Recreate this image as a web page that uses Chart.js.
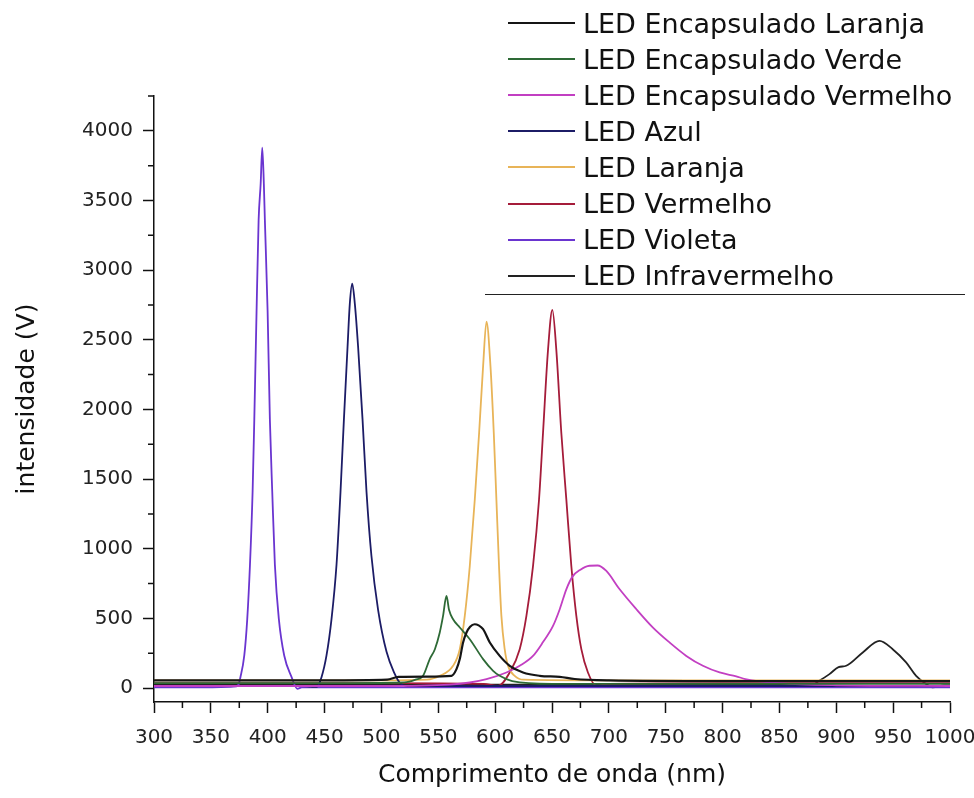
<!DOCTYPE html>
<html>
<head>
<meta charset="utf-8">
<script src="https://cdn.jsdelivr.net/npm/chart.js@4.4.1/dist/chart.umd.min.js"></script>
<style>
  body { margin: 0; background: #fff; }
  #wrap { position: relative; width: 974px; height: 798px; }
  #spectra { position: absolute; left: 0; top: 0; }
  #legend {
    position: absolute; left: 485px; top: 5px; width: 480px; height: 289px;
    border-bottom: 1.5px solid #222; font-family: "DejaVu Sans", sans-serif;
    font-size: 27px; color: #111;
  }
  .row { height: 36.1px; display: flex; align-items: center; }
  .swatch { width: 67px; height: 0; border-top: 2px solid; margin-left: 23px; margin-right: 8px; }
</style>
</head>
<body>
<div id="wrap">
  <canvas id="spectra" width="974" height="798"></canvas>
  <div id="legend"></div>
</div>
<script>
const seriesNames = [
  "LED Encapsulado Laranja",
  "LED Encapsulado Verde",
  "LED Encapsulado Vermelho",
  "LED Azul",
  "LED Laranja",
  "LED Vermelho",
  "LED Violeta",
  "LED Infravermelho",
];

const seriesColors = [
  "#151515",
  "#2e6a36",
  "#c23fc2",
  "#1c1c66",
  "#e8b458",
  "#a51c3a",
  "#6a35d0",
  "#222222",
];

// wavelength (nm) and intensity (V) for each LED
const encLaranjaNm = [300, 450, 505, 515, 540, 561.6, 566, 568.9, 571.8, 574.8, 578, 582, 585.5, 589.4, 595.3, 604, 612.8, 624.5, 639.2, 656.8, 670, 700, 800, 900, 1000];
const encLaranjaV = [55, 55, 60, 80, 82, 88, 136, 208, 327, 399, 440, 458, 450, 423, 327, 231, 160, 112, 88, 80, 65, 55, 50, 50, 50];

const encVerdeNm = [300, 450, 520, 530, 536.6, 542.5, 547, 551.3, 554.2, 557.2, 559.5, 563, 568.9, 577.7, 589.4, 598.2, 604, 615, 650, 700, 800, 900, 1000];
const encVerdeV = [35, 35, 40, 60, 88, 208, 279, 399, 518, 661, 560, 494, 435, 351, 208, 124, 88, 50, 30, 30, 30, 30, 30];

const encVermelhoNm = [300, 500, 560, 577.7, 592.4, 609.9, 621.6, 633.3, 642.1, 650.9, 656.8, 662.6, 668, 675, 683, 690, 697.8, 709.5, 724.2, 738.8, 753.4, 768.1, 782.7, 797.4, 812, 820, 850, 900, 1000];
const encVermelhoV = [15, 15, 25, 40, 64, 112, 160, 231, 330, 446, 566, 709, 800, 850, 878, 880, 841, 709, 566, 434, 327, 231, 160, 112, 84, 65, 35, 20, 15];

const azulNm = [300, 400, 430, 438, 443, 447.3, 451.7, 456.1, 460.5, 464, 467, 470.2, 472.2, 474.3, 476.6, 479.5, 483.4, 486.9, 491.2, 497.1, 504.5, 511.8, 516, 523, 540, 600, 700, 800, 900, 1000];
const azulV = [15, 15, 15, 10, 8, 78, 234, 495, 885, 1406, 1927, 2448, 2760, 2903, 2760, 2448, 1927, 1406, 950, 560, 260, 100, 40, 15, 15, 15, 15, 15, 15, 15];

const laranjaNm = [300, 400, 500, 540, 551.3, 563, 568.9, 573.3, 577.7, 582.1, 585.9, 589.4, 592.4, 595.9, 598.8, 601.1, 603.4, 605.5, 608.4, 611.3, 617.2, 625, 700, 800, 900, 1000];
const laranjaV = [55, 55, 55, 60, 88, 160, 279, 518, 876, 1354, 1831, 2309, 2631, 2309, 1831, 1354, 876, 518, 279, 160, 88, 60, 55, 55, 55, 55];

const vermelhoNm = [300, 500, 590, 602.6, 612.8, 621.6, 627.5, 633.3, 638.6, 642.1, 646.5, 650.3, 653.8, 658.2, 662.6, 667, 671.4, 675.8, 681.6, 689, 700, 800, 900, 1000];
const vermelhoV = [35, 35, 30, 16, 112, 279, 518, 876, 1354, 1831, 2428, 2715, 2428, 1831, 1354, 876, 518, 279, 112, 16, 30, 35, 35, 35];

const violetaNm = [300, 340, 370, 374, 376, 379.4, 382, 384.4, 386.7, 388.2, 390.2, 392, 393.8, 395.2, 396.6, 397.5, 399.9, 401.9, 404, 406.3, 409.8, 414.5, 421, 426, 430, 500, 600, 700, 800, 900, 1000];
const violetaV = [5, 5, 10, 20, 78, 234, 495, 885, 1406, 1927, 2708, 3359, 3620, 3880, 3620, 3359, 2708, 1927, 1406, 885, 495, 234, 78, -5, 5, 5, 5, 5, 5, 5, 5];

const infraNm = [300, 600, 800, 860, 876.5, 885, 894, 902, 908.7, 923.3, 938, 949.6, 961.4, 970.2, 979, 984.8, 995, 1000];
const infraV = [25, 25, 25, 22, 12, 52, 100, 150, 160, 256, 339, 279, 184, 88, 29, 5, 20, 20];

const seriesNm = [encLaranjaNm, encVerdeNm, encVermelhoNm, azulNm, laranjaNm, vermelhoNm, violetaNm, infraNm];
const seriesV = [encLaranjaV, encVerdeV, encVermelhoV, azulV, laranjaV, vermelhoV, violetaV, infraV];

const xTickValues = [300, 350, 400, 450, 500, 550, 600, 650, 700, 750, 800, 850, 900, 950, 1000];
const yTickValues = [0, 500, 1000, 1500, 2000, 2500, 3000, 3500, 4000];
const xRange = [300, 1000];
const yRange = [-100, 4250];

function toPoints(nm, v) {
  return nm.map((x, i) => ({ x: x, y: v[i] }));
}

const datasets = seriesNames.map((name, i) => ({
  label: name,
  data: toPoints(seriesNm[i], seriesV[i]),
  borderColor: seriesColors[i],
  borderWidth: i === 0 ? 2.2 : 1.8,
  pointRadius: 0,
  cubicInterpolationMode: "monotone",
  fill: false,
}));

// short ticks halfway between the labelled ones
const minorTicks = {
  id: "minorTicks",
  afterDraw(chart) {
    const { ctx, scales } = chart;
    const x = scales.x;
    const y = scales.y;
    ctx.save();
    ctx.strokeStyle = "#111";
    ctx.lineWidth = 1.5;
    ctx.beginPath();
    for (let i = 0; i < xTickValues.length - 1; i++) {
      const px = x.getPixelForValue((xTickValues[i] + xTickValues[i + 1]) / 2);
      ctx.moveTo(px, y.bottom);
      ctx.lineTo(px, y.bottom + 6);
    }
    for (let i = 0; i < yTickValues.length; i++) {
      const py = y.getPixelForValue(yTickValues[i] + 250);
      ctx.moveTo(x.left, py);
      ctx.lineTo(x.left - 6, py);
    }
    ctx.stroke();
    ctx.restore();
  },
};

const tickFont = { family: "DejaVu Sans", size: 20 };
const titleFont = { family: "DejaVu Sans", size: 25 };

new Chart(document.getElementById("spectra"), {
  type: "line",
  data: { datasets: datasets },
  options: {
    responsive: false,
    animation: false,
    layout: { padding: { top: 96, right: 24, left: 0, bottom: 0 } },
    plugins: {
      legend: { display: false },
      tooltip: { enabled: false },
    },
    scales: {
      x: {
        type: "linear",
        min: xRange[0],
        max: xRange[1],
        afterBuildTicks: (scale) => {
          scale.ticks = xTickValues.map((v) => ({ value: v }));
        },
        ticks: {
          color: "#222",
          font: tickFont,
          padding: 13,
          maxRotation: 0,
          autoSkip: false,
          callback: (v) => String(v),
        },
        grid: {
          drawOnChartArea: false,
          tickLength: 11,
          tickWidth: 1.5,
          tickColor: "#111",
        },
        border: { color: "#111", width: 1.5 },
        title: {
          display: true,
          text: "Comprimento de onda (nm)",
          color: "#111",
          font: titleFont,
          padding: { top: 0, bottom: 8 },
        },
        afterFit: (scale) => {
          scale.height = 96;
          scale.paddingLeft = 0;
          scale.paddingRight = 0;
        },
      },
      y: {
        min: yRange[0],
        max: yRange[1],
        afterBuildTicks: (scale) => {
          scale.ticks = yTickValues.map((v) => ({ value: v }));
        },
        ticks: {
          color: "#222",
          font: tickFont,
          padding: 10,
          autoSkip: false,
          callback: (v) => String(v),
        },
        grid: {
          drawOnChartArea: false,
          tickLength: 11,
          tickWidth: 1.5,
          tickColor: "#111",
        },
        border: { color: "#111", width: 1.5 },
        title: {
          display: true,
          text: "intensidade (V)",
          color: "#111",
          font: titleFont,
          padding: { top: 12, bottom: 0 },
        },
        afterFit: (scale) => {
          scale.width = 154;
          scale.paddingTop = 0;
          scale.paddingBottom = 0;
        },
      },
    },
  },
  plugins: [minorTicks],
});

const legend = document.getElementById("legend");
seriesNames.forEach((name, i) => {
  const row = document.createElement("div");
  row.className = "row";
  const swatch = document.createElement("span");
  swatch.className = "swatch";
  swatch.style.borderTopColor = seriesColors[i];
  const label = document.createElement("span");
  label.textContent = name;
  row.appendChild(swatch);
  row.appendChild(label);
  legend.appendChild(row);
});
</script>
</body>
</html>
